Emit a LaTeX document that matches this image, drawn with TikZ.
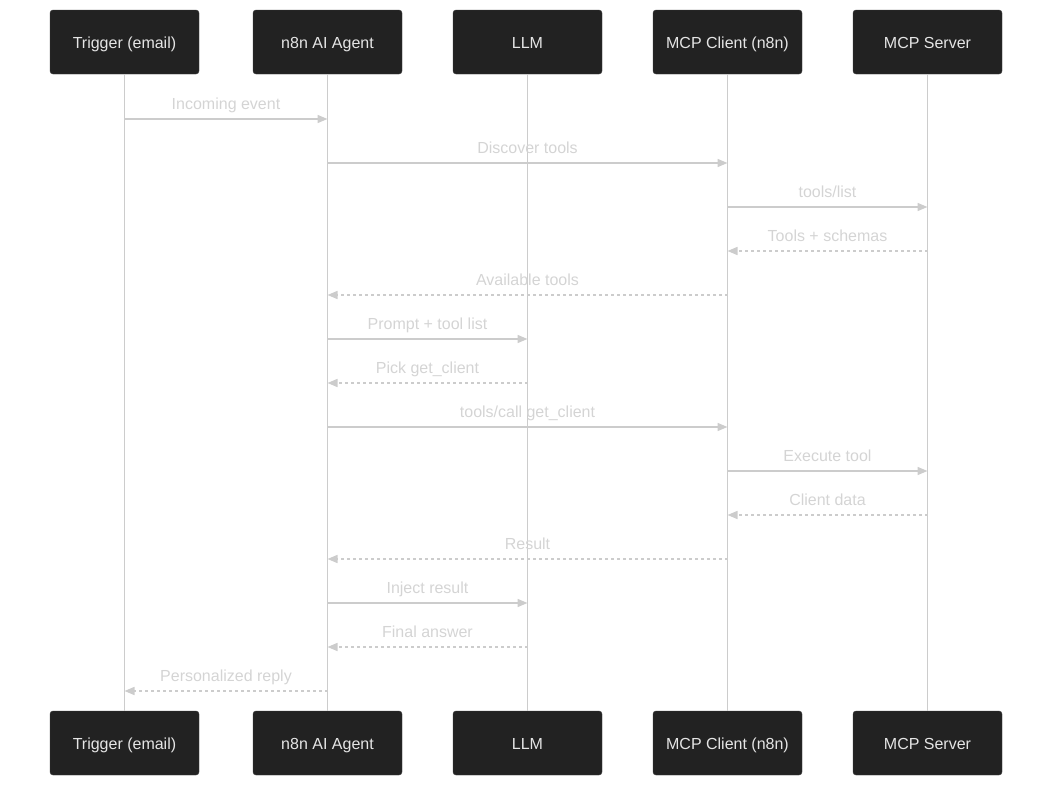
\documentclass[tikz,border=0pt]{standalone}
\usepackage{fontspec}
\setmainfont{Liberation Sans}
\usetikzlibrary{arrows.meta}
\definecolor{boxfill}{HTML}{222222}
\definecolor{boxline}{HTML}{3A3A3A}
\definecolor{wire}{HTML}{CCCCCC}
\definecolor{msgtext}{HTML}{D4D4D4}

\begin{document}
\begin{tikzpicture}[
  x=1pt, y=-1pt,
  actor/.style={rectangle,draw=boxline,fill=boxfill,text=white!90!black,rounded corners=3pt,minimum width=149pt,minimum height=64pt,inner sep=0pt,text height=13pt,text depth=0pt,font=\fontsize{16}{19}\selectfont},
  lifeline/.style={wire,line width=1.8pt},
  msg/.style={wire,line width=1.5pt,-{Triangle[length=10pt,width=8pt]}},
  reply/.style={msg,dash pattern=on 3pt off 3pt},
  lbl/.style={midway,anchor=base,yshift=10pt,text=msgtext,inner sep=0pt,font=\fontsize{16}{19}\selectfont}
]
  \useasboundingbox (0,0) rectangle (1053,787);
  % top row
  \node[actor] (t1) at (124.5,42) {Trigger (email)};
  \node[actor] (t2) at (327.5,42) {n8n AI Agent};
  \node[actor] (t3) at (527.5,42) {LLM};
  \node[actor] (t4) at (727.5,42) {MCP Client (n8n)};
  \node[actor] (t5) at (927.5,42) {MCP Server};
  % bottom row
  \node[actor] (b1) at (124.5,743) {Trigger (email)};
  \node[actor] (b2) at (327.5,743) {n8n AI Agent};
  \node[actor] (b3) at (527.5,743) {LLM};
  \node[actor] (b4) at (727.5,743) {MCP Client (n8n)};
  \node[actor] (b5) at (927.5,743) {MCP Server};
  % lifelines
  \foreach \i in {1,...,5}
    \draw[lifeline] (t\i) -- (b\i);
  % anchor points on each lifeline, one per message row
  \foreach \n/\x in {trg/124.5, agt/327.5, llm/527.5, cli/727.5, srv/927.5}
    \foreach \r in {1,...,14}
      \coordinate (\n\r) at (\x,{75+44*\r});
  % messages
  \draw[msg] (trg1) -- (agt1) node[lbl] {Incoming event};
  \draw[msg] (agt2) -- (cli2) node[lbl] {Discover tools};
  \draw[msg] (cli3) -- (srv3) node[lbl] {tools/list};
  \draw[reply] (srv4) -- (cli4) node[lbl] {Tools + schemas};
  \draw[reply] (cli5) -- (agt5) node[lbl] {Available tools};
  \draw[msg] (agt6) -- (llm6) node[lbl] {Prompt + tool list};
  \draw[reply] (llm7) -- (agt7) node[lbl] {Pick get\_client};
  \draw[msg] (agt8) -- (cli8) node[lbl] {tools/call get\_client};
  \draw[msg] (cli9) -- (srv9) node[lbl] {Execute tool};
  \draw[reply] (srv10) -- (cli10) node[lbl] {Client data};
  \draw[reply] (cli11) -- (agt11) node[lbl] {Result};
  \draw[msg] (agt12) -- (llm12) node[lbl] {Inject result};
  \draw[reply] (llm13) -- (agt13) node[lbl] {Final answer};
  \draw[reply] (agt14) -- (trg14) node[lbl] {Personalized reply};
\end{tikzpicture}
\end{document}
